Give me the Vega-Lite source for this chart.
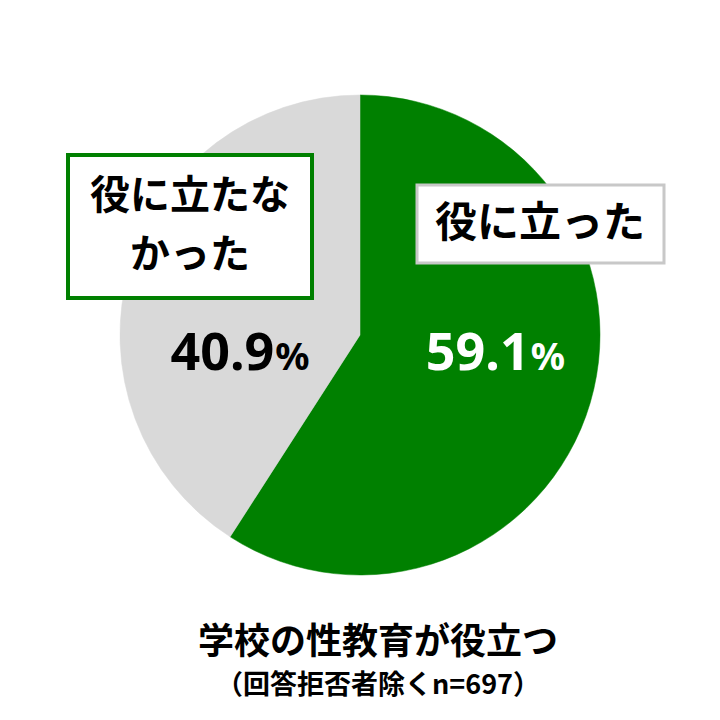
{
  "$schema": "https://vega.github.io/schema/vega-lite/v6.json",
  "width": 720,
  "height": 670,
  "autosize": "none",
  "padding": {"left": 0, "top": 0, "right": 0, "bottom": 50},
  "background": "white",
  "config": {"view": {"stroke": null}},
  "title": {
    "text": "学校の性教育が役立つ",
    "subtitle": "（回答拒否者除くn=697）",
    "orient": "bottom",
    "anchor": "middle",
    "offset": -44,
    "dx": 18,
    "font": "Noto Sans CJK JP",
    "fontSize": 36,
    "fontWeight": "bold",
    "color": "black",
    "subtitleFont": "Noto Sans CJK JP",
    "subtitleFontSize": 27,
    "subtitleFontWeight": "bold",
    "subtitleColor": "black",
    "subtitlePadding": 11
  },
  "data": {
    "values": [
      {"回答": "役に立った", "割合": 59.1},
      {"回答": "役に立たなかった", "割合": 40.9}
    ]
  },
  "layer": [
    {
      "mark": {"type": "arc", "outerRadius": 240, "strokeWidth": 0.5},
      "encoding": {
        "theta": {"field": "割合", "type": "quantitative", "stack": true},
        "order": {"field": "割合", "type": "quantitative", "sort": "descending"},
        "fill": {
          "field": "回答",
          "type": "nominal",
          "scale": {"domain": ["役に立った", "役に立たなかった"], "range": ["#008000", "#d9d9d9"]},
          "legend": {
            "values": ["役に立った"],
            "title": null,
            "orient": "none",
            "legendX": 417,
            "legendY": 185,
            "symbolSize": 0,
            "symbolOpacity": 0,
            "symbolStrokeWidth": 0,
            "labelOffset": -42,
            "labelFont": "Noto Sans CJK JP",
            "labelFontSize": 42,
            "labelFontWeight": "bold",
            "labelColor": "black",
            "labelLimit": 0,
            "padding": 18,
            "fillColor": "white",
            "strokeColor": "#c8c8c8",
            "encoding": {"legend": {"strokeWidth": {"value": 3}}}
          }
        },
        "stroke": {
          "field": "回答",
          "type": "nominal",
          "scale": {"domain": ["役に立たなかった", "役に立った"], "range": ["#d9d9d9", "#008000"]},
          "legend": {
            "values": ["役に立たなかった"],
            "title": null,
            "orient": "none",
            "legendX": 68,
            "legendY": 155,
            "symbolSize": 0,
            "symbolOpacity": 0,
            "symbolStrokeWidth": 0,
            "labelOffset": 60,
            "labelAlign": "center",
            "labelFont": "Noto Sans CJK JP",
            "labelFontSize": 40,
            "labelFontWeight": "bold",
            "labelColor": "black",
            "labelLimit": 0,
            "labelExpr": "datum.label == '役に立たなかった' ? ['役に立たな', 'かった'] : datum.label",
            "padding": 22,
            "fillColor": "white",
            "strokeColor": "#008000",
            "encoding": {
              "legend": {"strokeWidth": {"value": 4}},
              "labels": {"lineHeight": {"value": 59}}
            }
          }
        }
      }
    },
    {
      "mark": {
        "type": "text",
        "align": "right",
        "baseline": "alphabetic",
        "dx": 42,
        "font": "Noto Sans",
        "fontWeight": "bold",
        "fontSize": 52
      },
      "encoding": {
        "x": {
          "field": "回答",
          "type": "nominal",
          "scale": {"type": "point", "domain": ["役に立たなかった", "役に立った"], "padding": 0.91},
          "axis": null
        },
        "y": {"value": 370},
        "text": {"field": "割合", "type": "quantitative", "format": ".1f"},
        "color": {
          "field": "回答",
          "type": "nominal",
          "scale": {"domain": ["役に立った", "役に立たなかった"], "range": ["white", "black"]},
          "legend": null
        }
      }
    },
    {
      "mark": {
        "type": "text",
        "align": "left",
        "baseline": "alphabetic",
        "dx": 43,
        "font": "Noto Sans",
        "fontWeight": "bold",
        "fontSize": 38
      },
      "encoding": {
        "x": {
          "field": "回答",
          "type": "nominal",
          "scale": {"type": "point", "domain": ["役に立たなかった", "役に立った"], "padding": 0.91},
          "axis": null
        },
        "y": {"value": 370},
        "text": {"value": "%"},
        "color": {
          "field": "回答",
          "type": "nominal",
          "scale": {"domain": ["役に立った", "役に立たなかった"], "range": ["white", "black"]},
          "legend": null
        }
      }
    }
  ]
}
